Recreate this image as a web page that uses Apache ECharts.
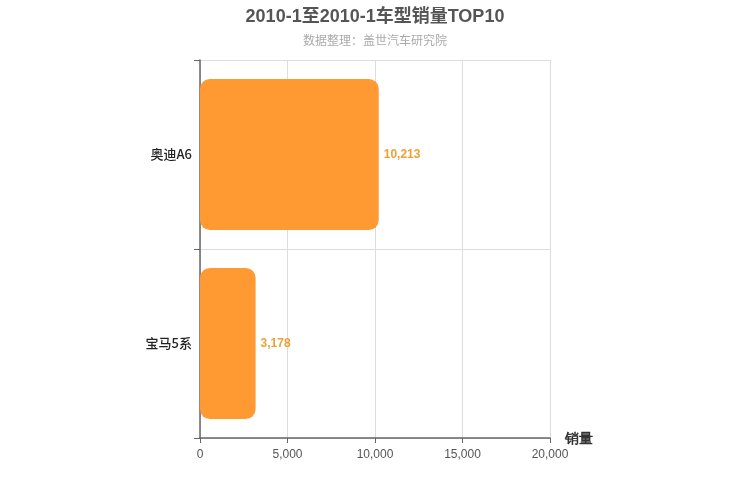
<!DOCTYPE html>
<html>
<head>
<meta charset="utf-8">
<script src="https://cdn.jsdelivr.net/npm/echarts@6/dist/echarts.min.js"></script>
<style>
html,body{margin:0;padding:0;background:#fff;}
#main{width:750px;height:500px;}
</style>
</head>
<body>
<div id="main"></div>
<script>
var models = ['宝马5系', '奥迪A6'];
var sales = [3178, 10213];
var xTicks = [0, 5000, 10000, 15000, 20000];

var myChart = echarts.init(document.getElementById('main'));
var option = {
	backgroundColor: '#fff',
	title: {
		text: '2010-1至2010-1车型销量TOP10',
		subtext: '数据整理：盖世汽车研究院',
		left: 'center',
		top: 3,
		itemGap: 8,
		textStyle: {
			fontSize: 18,
			fontWeight: 'bold',
			color: '#555',
			fontFamily: 'Arial, "Noto Sans CJK SC", sans-serif'
		},
		subtextStyle: {
			fontSize: 12,
			color: '#aaa',
			fontFamily: '"Noto Sans CJK SC", sans-serif'
		}
	},
	grid: {
		left: 200,
		right: 200,
		top: 60,
		bottom: 62
	},
	xAxis: {
		type: 'value',
		min: xTicks[0],
		max: xTicks[xTicks.length - 1],
		interval: 5000,
		name: '销量',
		nameGap: 15,
		nameTextStyle: {
			fontSize: 14,
			fontWeight: 'bold',
			color: '#333',
			verticalAlign: 'top',
			padding: [-6, 0, 0, 0]
		},
		axisLine: {
			show: true,
			lineStyle: { color: '#666', width: 1.5 }
		},
		axisTick: {
			show: true,
			lineStyle: { color: '#666' }
		},
		axisLabel: {
			color: '#555',
			fontSize: 12,
			margin: 11,
			formatter: function (v) { return v.toLocaleString('en-US'); }
		},
		splitLine: {
			show: true,
			lineStyle: { color: '#ddd' }
		}
	},
	yAxis: {
		type: 'category',
		data: models,
		axisLine: {
			show: true,
			lineStyle: { color: '#666', width: 1.5 }
		},
		axisTick: {
			show: true,
			length: 6,
			lineStyle: { color: '#666' }
		},
		axisLabel: {
			color: '#222',
			fontSize: 13,
			fontWeight: 500,
			fontFamily: '"Noto Sans CJK SC", sans-serif'
		},
		splitLine: {
			show: true,
			lineStyle: { color: '#ddd' }
		}
	},
	series: [{
		type: 'bar',
		data: sales,
		barWidth: '80%',
		itemStyle: {
			color: '#FF9A33',
			borderRadius: 10
		},
		label: {
			show: true,
			position: 'right',
			color: '#F0A035',
			fontSize: 12,
			fontWeight: 'bold',
			formatter: function (p) { return p.value.toLocaleString('en-US'); }
		}
	}]
};
myChart.setOption(option);
</script>
</body>
</html>
